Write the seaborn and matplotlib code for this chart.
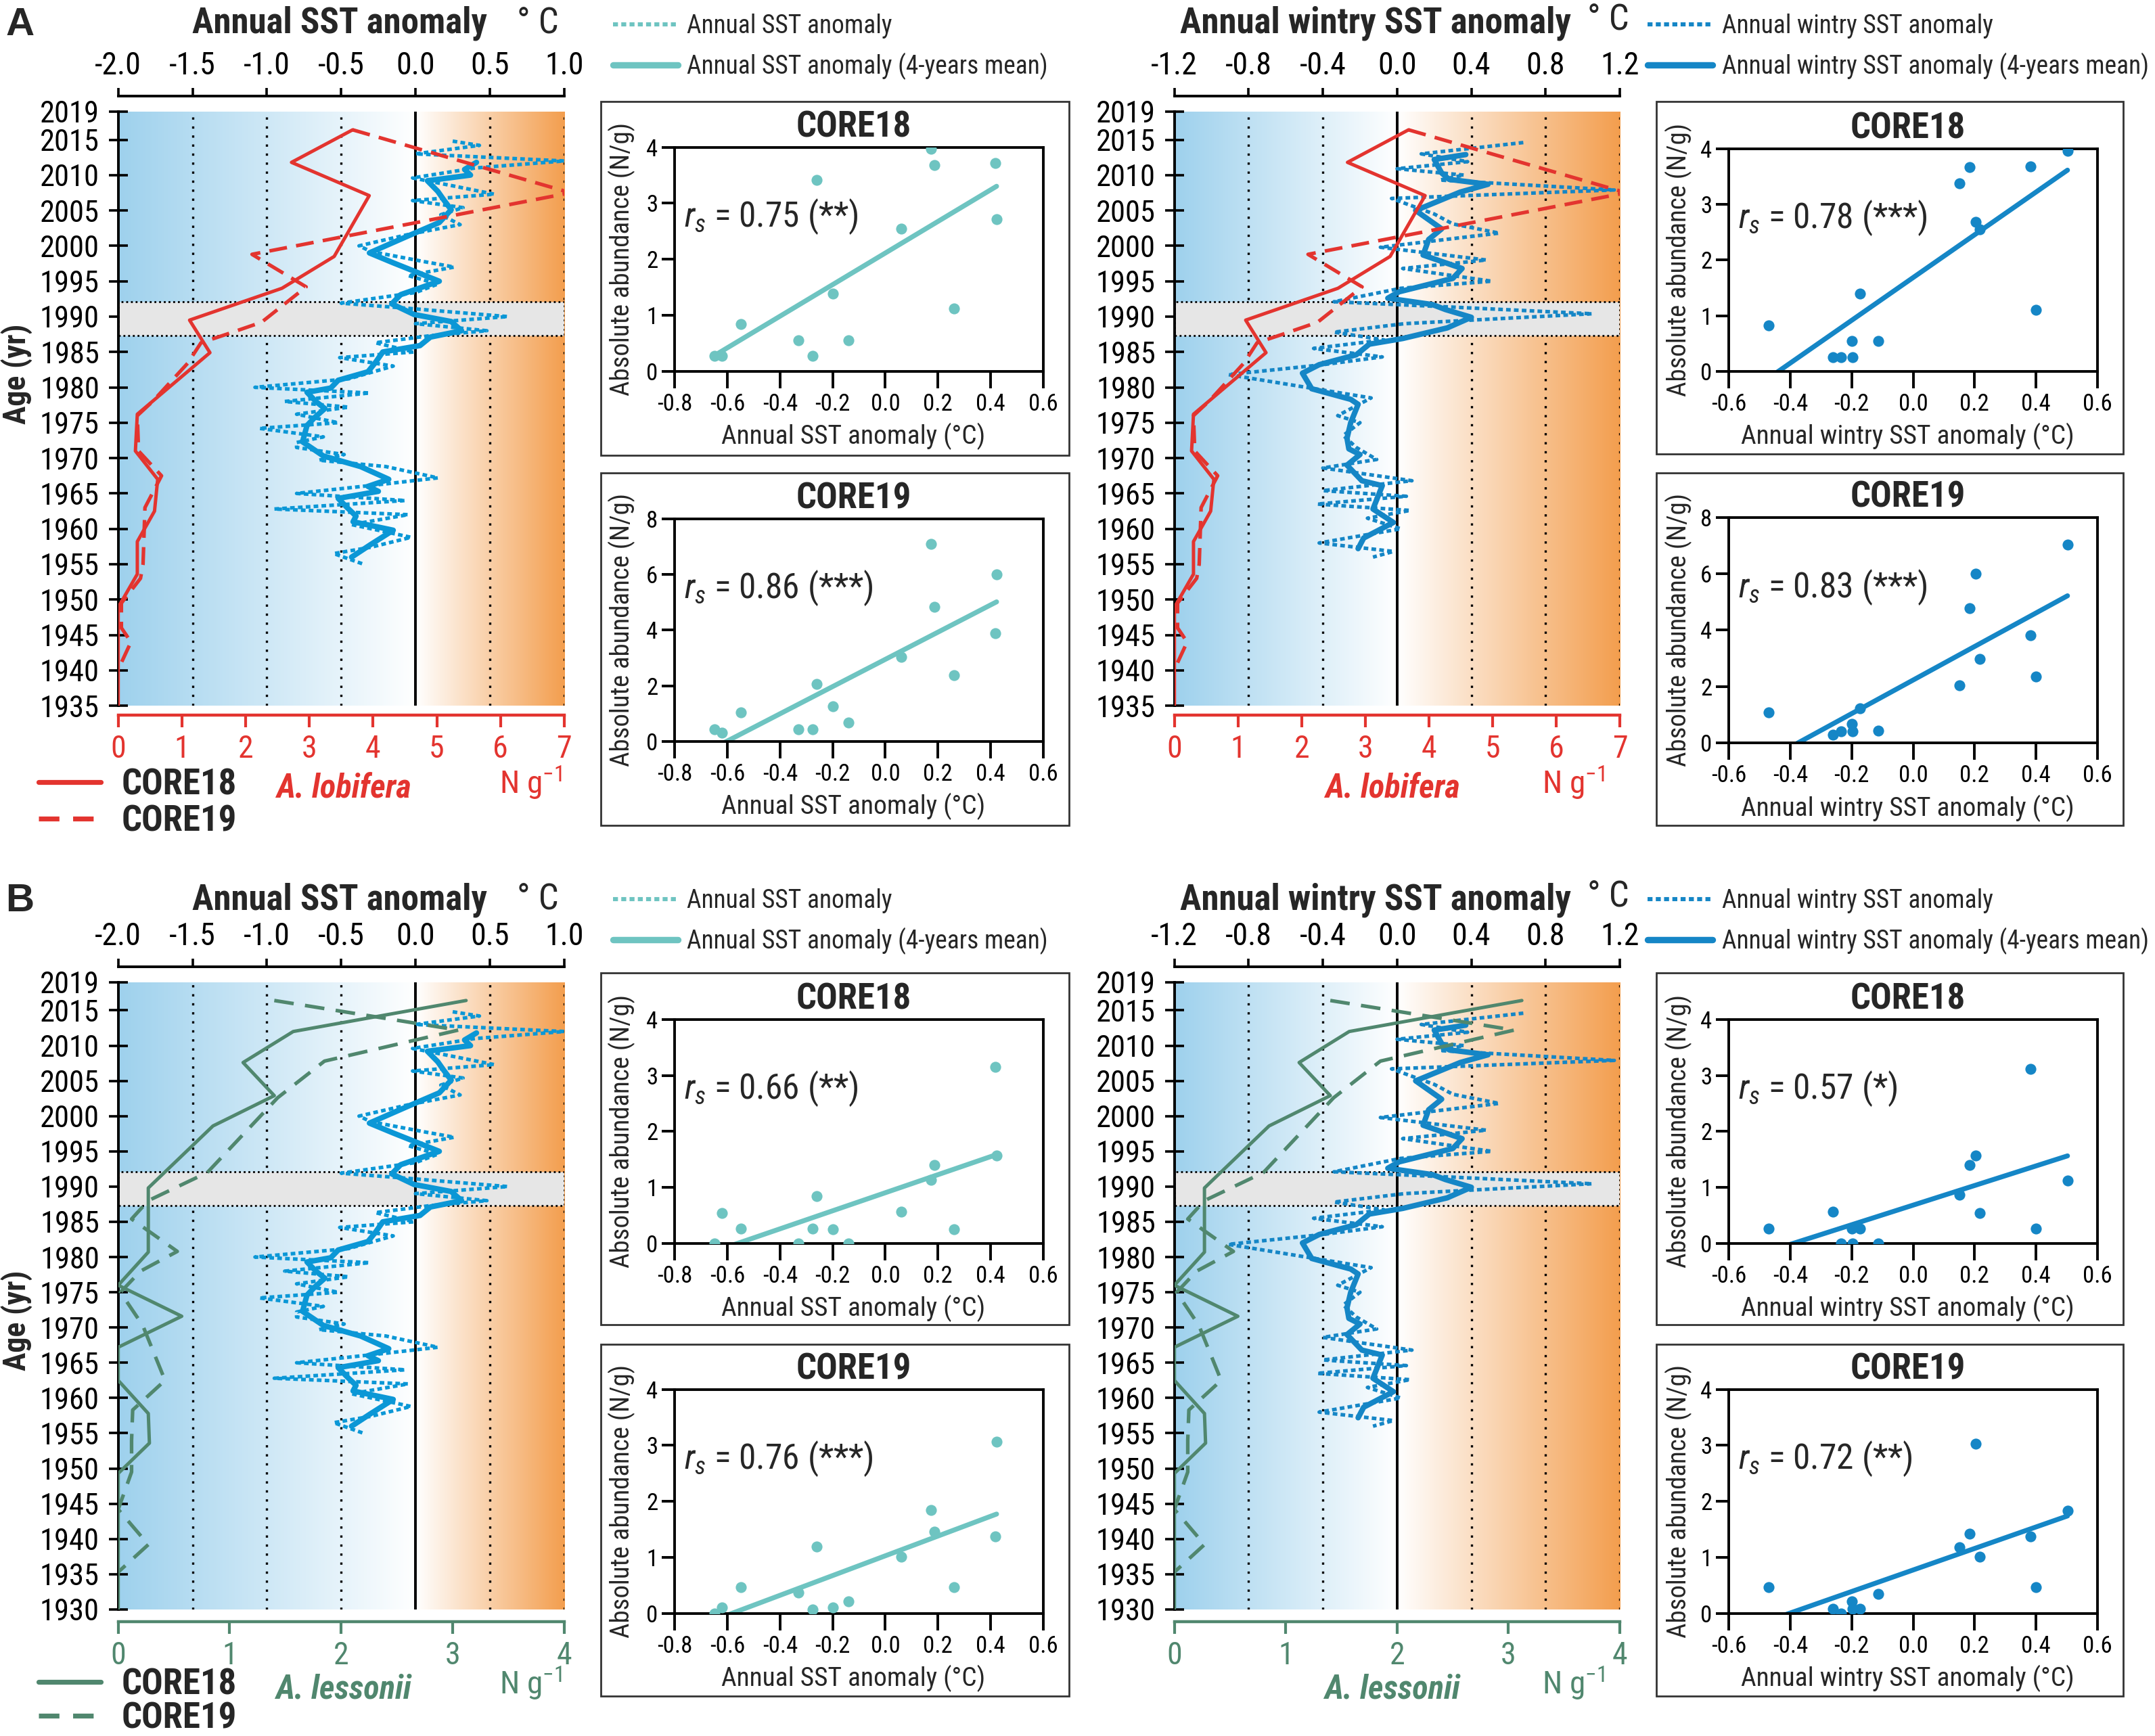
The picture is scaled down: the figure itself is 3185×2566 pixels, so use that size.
import numpy as np
import matplotlib
matplotlib.use("Agg")
import matplotlib.pyplot as plt
import seaborn as sns
from matplotlib.lines import Line2D
from matplotlib.patches import Rectangle
from matplotlib import font_manager
from matplotlib.font_manager import FontProperties

sns.set_style("white")


# the figure uses a condensed sans serif everywhere; look for one
def pick_font():
    for name, sc in [("Liberation Sans Narrow", 1.0), ("Arial Narrow", 1.0),
                     ("Noto Sans Condensed", 0.95), ("DejaVu Sans Condensed", 0.92),
                     ("Roboto Condensed", 1.0)]:
        try:
            font_manager.findfont(name, fallback_to_default=False)
            return name, "normal", sc
        except Exception:
            pass
    for fam, sc in [("Noto Sans", 0.95), ("DejaVu Sans", 0.92), ("Open Sans", 0.95),
                    ("Roboto", 1.0)]:
        try:
            path = font_manager.findfont(FontProperties(family=fam, stretch="condensed"),
                                         fallback_to_default=False)
            if "ondensed" in path or "arrow" in path:
                return fam, "condensed", sc
        except Exception:
            pass
    return "Liberation Sans", "normal", 0.9


MAIN, STRETCH, SC = pick_font()
plt.rcParams["font.family"] = [MAIN, "Liberation Sans", "DejaVu Sans"]
plt.rcParams["font.stretch"] = STRETCH
plt.rcParams["mathtext.fontset"] = "custom"
plt.rcParams["mathtext.rm"] = MAIN
plt.rcParams["mathtext.it"] = MAIN + ":italic"
plt.rcParams["axes.unicode_minus"] = False


def fs(pt):
    return pt * SC


# ---------------- data ----------------
# annual SST anomaly (degC), yearly values (dotted) and 4-years mean (solid)
ann_years = [2014.8, 2014.2, 2013.0, 2012.0, 2011.0, 2009.6, 2008.4, 2007.3, 2006.4, 2005.4,
             2004.4, 2003.0, 2001.6, 2000.0, 1999.2, 1997.8, 1997.0, 1995.8, 1994.6, 1993.4,
             1991.9, 1991.2, 1990.0, 1989.0, 1988.0, 1987.3, 1986.3, 1985.0, 1984.2, 1983.0,
             1981.2, 1980.0, 1979.2, 1978.0, 1977.2, 1976.2, 1975.0, 1974.2, 1973.0, 1972.2,
             1971.5, 1970.5, 1969.7, 1968.8, 1967.2, 1966.4, 1965.0, 1964.0, 1962.8, 1962.0,
             1960.6, 1958.8, 1957.4, 1956.5, 1955.0]
ann_sst = [0.25, 0.43, 0.00, 1.00, 0.40, -0.02, 0.27, 0.53, -0.02, 0.32,
           0.17, 0.30, -0.05, -0.38, -0.30, 0.05, 0.26, -0.05, 0.15, 0.00,
           -0.50, -0.07, 0.62, 0.00, 0.48, 0.10, -0.27, -0.01, -0.51, -0.15,
           -0.45, -1.08, -0.31, -0.88, -0.45, -0.80, -0.52, -1.05, -0.62, -0.80,
           -0.80, -0.48, -0.65, -0.20, 0.15, -0.18, -0.80, -0.07, -0.95, -0.05,
           -0.43, -0.03, -0.30, -0.55, -0.35]
ann_mean_years = [2011.8, 2010.8, 2010.0, 2009.2, 2007.7, 2006.5, 2005.1, 2003.3, 2001.4, 1999.0,
                  1997.6, 1995.0, 1993.1, 1991.8, 1990.3, 1989.3, 1988.0, 1987.1, 1985.9, 1985.0,
                  1983.5, 1982.2, 1981.0, 1979.9, 1979.3, 1978.0, 1977.0, 1975.7, 1974.6, 1972.3,
                  1970.3, 1968.8, 1967.0, 1966.0, 1965.3, 1964.3, 1963.0, 1961.8, 1961.0, 1959.8,
                  1957.8, 1956.0]
ann_mean = [0.41, 0.33, 0.37, 0.08, 0.15, 0.19, 0.24, 0.16, -0.05, -0.31,
            -0.15, 0.16, -0.10, -0.16, -0.01, 0.24, 0.31, 0.10, 0.03, -0.22,
            -0.27, -0.32, -0.52, -0.57, -0.73, -0.67, -0.61, -0.68, -0.73, -0.76,
            -0.62, -0.37, -0.18, -0.32, -0.25, -0.52, -0.46, -0.40, -0.42, -0.15,
            -0.30, -0.43]

# annual wintry SST anomaly (degC)
win_years = [2014.6, 2013.0, 2011.9, 2010.9, 2010.0, 2009.3, 2007.9, 2006.7, 2004.5, 2003.1,
             2001.8, 1999.8, 1998.0, 1996.8, 1995.0, 1994.0, 1992.1, 1991.3, 1990.4, 1989.0,
             1987.8, 1986.7, 1985.5, 1984.3, 1983.2, 1981.8, 1978.5, 1976.0, 1975.0, 1973.2,
             1971.5, 1969.8, 1968.6, 1966.8, 1965.4, 1964.6, 1963.5, 1962.6, 1961.5, 1960.0,
             1958.0, 1956.8, 1956.0]
win_sst = [0.68, 0.13, 0.38, 0.00, 0.36, 0.23, 1.17, -0.03, 0.20, 0.30,
           0.55, -0.09, 0.48, 0.03, 0.51, 0.02, -0.34, 0.33, 1.05, 0.04,
           -0.34, -0.07, -0.45, -0.08, -0.40, -0.91, -0.14, -0.32, -0.20, -0.29,
           -0.22, -0.11, -0.40, 0.08, -0.40, 0.05, -0.43, 0.07, -0.16, 0.02,
           -0.42, -0.02, -0.13]
win_mean_years = [2012.9, 2012.2, 2010.3, 2009.4, 2008.7, 2007.6, 2005.0, 2002.4, 2000.9, 1998.7,
                  1996.8, 1995.4, 1993.5, 1992.6, 1991.7, 1991.0, 1989.9, 1988.4, 1986.9, 1986.1,
                  1984.6, 1983.2, 1982.0, 1979.8, 1978.3, 1977.6, 1975.0, 1972.8, 1971.3, 1970.5,
                  1969.0, 1966.8, 1966.1, 1962.8, 1960.9, 1958.7, 1957.2]
win_mean = [0.37, 0.20, 0.24, 0.28, 0.49, 0.34, 0.10, 0.24, 0.17, 0.14,
            0.35, 0.30, 0.01, -0.05, 0.19, 0.26, 0.40, 0.27, 0.03, -0.15,
            -0.22, -0.42, -0.51, -0.46, -0.25, -0.21, -0.25, -0.27, -0.26, -0.20,
            -0.27, -0.19, -0.08, -0.13, -0.02, -0.18, -0.21]

# A. lobifera abundance (N/g)
lob18_years = [2016.4, 2011.8, 2007.1, 1998.5, 1994.0, 1989.5, 1984.9, 1976.2, 1971.0, 1967.0,
               1962.5, 1958.2, 1953.6, 1948.9, 1935.0]
lob18 = [3.68, 2.72, 3.94, 3.39, 2.57, 1.12, 1.44, 0.30, 0.27, 0.62,
         0.57, 0.30, 0.30, 0.00, 0.00]
lob19_years = [2016.4, 2007.5, 1998.8, 1994.2, 1989.2, 1987.5, 1986.3, 1983.4, 1978.0, 1976.0,
               1971.0, 1967.5, 1963.0, 1955.0, 1953.0, 1949.5, 1946.0, 1944.0, 1940.5]
lob19 = [3.68, 7.10, 2.10, 2.95, 2.25, 1.70, 1.30, 1.09, 0.54, 0.30,
         0.32, 0.68, 0.42, 0.39, 0.35, 0.05, 0.05, 0.20, 0.02]

# A. lessonii abundance (N/g)
les18_years = [2016.4, 2012.0, 2007.6, 2002.9, 1998.6, 1989.8, 1980.7, 1976.0, 1971.6, 1967.2,
               1962.5, 1957.8, 1953.6, 1949.3, 1930.0]
les18 = [3.12, 1.57, 1.12, 1.40, 0.85, 0.27, 0.27, 0.00, 0.57, 0.00,
         0.00, 0.27, 0.28, 0.00, 0.00]
les19_years = [2016.4, 2012.2, 2007.8, 2002.6, 1992.0, 1988.0, 1985.4, 1980.8, 1978.0, 1975.0,
               1970.3, 1962.5, 1958.3, 1954.0, 1949.5, 1944.2, 1939.2, 1935.3]
les19 = [1.40, 3.05, 1.85, 1.43, 0.80, 0.27, 0.12, 0.53, 0.20, 0.02,
         0.22, 0.42, 0.13, 0.12, 0.12, 0.00, 0.27, 0.00]

# correlation scatter: SST of each sample vs abundance
samp_ann = [-0.65, -0.62, -0.55, -0.33, -0.275, -0.26, -0.20, -0.14, 0.06, 0.175, 0.187, 0.26, 0.417, 0.423]
samp_win = [-0.47, -0.262, -0.235, -0.20, -0.197, -0.172, -0.114, 0.152, 0.184, 0.203, 0.218, 0.383, 0.401, 0.503]
lob18_ann = [0.28, 0.28, 0.84, 0.55, 0.28, 3.41, 1.39, 0.55, 2.55, 3.97, 3.68, 1.12, 3.72, 2.71]
lob19_ann = [0.44, 0.31, 1.05, 0.44, 0.44, 2.06, 1.25, 0.69, 3.03, 7.10, 4.84, 2.38, 3.88, 6.00]
lob18_win = [0.82, 0.25, 0.25, 0.55, 0.25, 1.40, 0.55, 3.38, 3.67, 2.68, 2.55, 3.68, 1.10, 3.96]
lob19_win = [1.08, 0.29, 0.41, 0.68, 0.41, 1.22, 0.42, 2.04, 4.78, 6.00, 2.97, 3.81, 2.35, 7.04]
les18_ann = [0.00, 0.54, 0.27, 0.00, 0.27, 0.84, 0.26, 0.00, 0.57, 1.14, 1.40, 0.26, 3.15, 1.57]
les19_ann = [0.00, 0.11, 0.47, 0.38, 0.07, 1.19, 0.11, 0.22, 1.01, 1.85, 1.46, 0.47, 1.38, 3.06]
les18_win = [0.27, 0.57, 0.00, 0.27, 0.00, 0.27, 0.00, 0.87, 1.40, 1.57, 0.55, 3.12, 0.27, 1.12]
les19_win = [0.47, 0.09, 0.00, 0.22, 0.09, 0.09, 0.35, 1.18, 1.43, 3.03, 1.01, 1.38, 0.47, 1.83]

rs_labels = {"lob18_ann": "0.75 (**)", "lob19_ann": "0.86 (***)",
             "lob18_win": "0.78 (***)", "lob19_win": "0.83 (***)",
             "les18_ann": "0.66 (**)", "les19_ann": "0.76 (***)",
             "les18_win": "0.57 (*)", "les19_win": "0.72 (**)"}

ann_ticks = [-2.0, -1.5, -1.0, -0.5, 0.0, 0.5, 1.0]
win_ticks = [-1.2, -0.8, -0.4, 0.0, 0.4, 0.8, 1.2]
band = (1987.3, 1992.1)

# ---------------- style ----------------
RED = "#e3342f"
GREEN = "#50876e"
BLUE_ANN = "#0b97d6"
BLUE_WIN = "#1586c6"
TEAL = "#6ec4c1"
BLUE_BG = np.array([158, 209, 237]) / 255
ORANGE_BG = np.array([243, 158, 78]) / 255

W, H = 1568.0, 1262.0


def frac(x0, y0, x1, y1):
    return [x0 / W, 1 - y1 / H, (x1 - x0) / W, (y1 - y0) / H]


def fx(x):
    return x / W


def fy(y):
    return 1 - y / H


fig = plt.figure(figsize=(15.925, 12.83), dpi=200)


def profile(rect, sst_ticks, yr0, sp_col, c18y, c18, c19y, c19, n_max,
            line_col, ay, av, my, mv, top_out, bot_out, dash):
    lo, hi = sst_ticks[0], sst_ticks[-1]
    ax = fig.add_axes(rect)
    # blue -> white -> orange background along the SST axis
    xs = np.linspace(lo, hi, 800)
    t_neg = np.clip(xs / lo, 0, 1)
    t_pos = np.clip(xs / hi, 0, 1)
    rgb = 1 + (BLUE_BG - 1) * t_neg[:, None] + (ORANGE_BG - 1) * t_pos[:, None]
    ax.imshow(rgb[None], extent=[lo, hi, yr0, 2019], aspect="auto",
              interpolation="bilinear", zorder=0)
    dots = [v for v in sst_ticks[1:] if abs(v) > 1e-9]
    for v in dots:
        ax.axvline(v, color="black", lw=1.2, ls=(0, (1, 3)), zorder=1)
    ax.axhspan(band[0], band[1], facecolor="#e6e6e6", edgecolor="black",
               lw=1.0, ls=(0, (1, 1.5)), zorder=1.5)
    ax.axvline(0, color="black", lw=1.4, zorder=2)
    sns.lineplot(x=av, y=ay, sort=False, estimator=None, ax=ax, color=line_col,
                 lw=1.9, ls=(0, (1.3, 0.9)), zorder=3)
    sns.lineplot(x=mv, y=my, sort=False, estimator=None, ax=ax, color=line_col,
                 lw=2.9, zorder=4)
    ax.set_xlim(lo, hi)
    ax.set_ylim(yr0, 2019)
    ax.set_xlabel("")
    ax.set_ylabel("")

    axn = ax.twiny()
    sns.lineplot(x=c18, y=c18y, sort=False, estimator=None, ax=axn, color=sp_col,
                 lw=1.8, zorder=5)
    sns.lineplot(x=c19, y=c19y, sort=False, estimator=None, ax=axn, color=sp_col,
                 lw=1.9, ls=dash, zorder=5)
    axn.set_xlim(0, n_max)
    axn.set_ylim(yr0, 2019)
    axn.set_xlabel("")
    axn.set_ylabel("")

    # SST axis on top
    ax.xaxis.set_ticks_position("top")
    ax.set_xticks(sst_ticks)
    ax.set_xticklabels([f"{t:.1f}" for t in sst_ticks])
    ax.tick_params(axis="x", top=True, bottom=False, labeltop=True, labelbottom=False,
                   direction="out", length=4.5, width=1.3, pad=3.5, labelsize=fs(16.5),
                   colors="black")
    yt = [2019] + list(range(2015, yr0 - 1, -5))
    ax.set_yticks(yt)
    ax.set_yticklabels([str(y) for y in yt])
    ax.tick_params(axis="y", left=True, direction="inout", length=10, width=1.3,
                   pad=5, labelsize=fs(16), colors="black")
    for s in ["right", "bottom"]:
        ax.spines[s].set_visible(False)
    ax.spines["top"].set_position(("outward", top_out))
    for s in ["top", "left"]:
        ax.spines[s].set_color("black")
        ax.spines[s].set_linewidth(1.4)
    ax.spines["left"].set_zorder(6)

    # abundance axis at bottom
    axn.xaxis.set_ticks_position("bottom")
    axn.set_xticks(range(0, n_max + 1))
    axn.tick_params(axis="x", top=False, bottom=True, labeltop=False, labelbottom=True,
                    direction="out", length=6.5, width=1.5, pad=3.5, labelsize=fs(16.5),
                    color=sp_col, labelcolor=sp_col)
    for s in ["top", "left", "right"]:
        axn.spines[s].set_visible(False)
    axn.spines["bottom"].set_position(("outward", bot_out))
    axn.spines["bottom"].set_color(sp_col)
    axn.spines["bottom"].set_linewidth(1.6)
    return ax


def scatter(rect, box, x, y, xticks, ymax, col, title, rs, xlabel, ylab_x):
    b = frac(*box)
    fig.add_artist(Rectangle((b[0], b[1]), b[2], b[3], transform=fig.transFigure,
                             fill=False, edgecolor="#333333", lw=1.0))
    ax = fig.add_axes(frac(*rect))
    sns.regplot(x=np.array(x), y=np.array(y), ax=ax, ci=None, color=col,
                scatter_kws={"s": 34, "linewidths": 0, "alpha": 1, "zorder": 3},
                line_kws={"lw": 2.6, "zorder": 2})
    ax.set_xlim(xticks[0], xticks[-1])
    ax.set_ylim(0, ymax)
    ax.set_xticks(xticks)
    ax.set_xticklabels([f"{t:.1f}" for t in xticks])
    step = 1 if ymax == 4 else 2
    ax.set_yticks(range(0, ymax + 1, step))
    ax.set_xlabel("")
    ax.set_ylabel("")
    ax.tick_params(axis="x", bottom=True, direction="out", length=9, width=1.4,
                   pad=2.5, labelsize=fs(12.5), colors="black")
    ax.tick_params(axis="y", left=True, direction="out", length=7, width=1.4,
                   pad=2, labelsize=fs(12.5), colors="black")
    for s in ax.spines.values():
        s.set_visible(True)
        s.set_color("black")
        s.set_linewidth(1.4)
    ax.text(0.485, 1.09, title, transform=ax.transAxes, ha="center", va="center",
            fontsize=fs(19), fontweight="bold")
    ax.text(0.025, 0.69, r"$r_s$ = " + rs, transform=ax.transAxes, ha="left",
            va="center", fontsize=fs(18.5))
    ax.text(0.485, -0.29, xlabel, transform=ax.transAxes, ha="center", va="center",
            fontsize=fs(14.2))
    ax.text(ylab_x, 0.5, "Absolute abundance (N/g)", transform=ax.transAxes,
            rotation=90, ha="center", va="center", fontsize=fs(14))
    return ax


red_dash = (0, (5, 2.6))
green_dash = (0, (5.5, 3.2))

# ---------------- panel A ----------------
profile(frac(86, 81, 410.5, 513), ann_ticks, 1935, RED, lob18_years, lob18,
        lob19_years, lob19, 7, BLUE_ANN, ann_years, ann_sst, ann_mean_years, ann_mean,
        8.3, 5.0, red_dash)
profile(frac(854.5, 81, 1178.6, 513), win_ticks, 1935, RED, lob18_years, lob18,
        lob19_years, lob19, 7, BLUE_WIN, win_years, win_sst, win_mean_years, win_mean,
        8.3, 5.0, red_dash)

# ---------------- panel B ----------------
profile(frac(86, 714, 410.5, 1170), ann_ticks, 1930, GREEN, les18_years, les18,
        les19_years, les19, 4, BLUE_ANN, ann_years, ann_sst, ann_mean_years, ann_mean,
        8.3, 6.5, green_dash)
profile(frac(854.5, 714, 1178.6, 1170), win_ticks, 1930, GREEN, les18_years, les18,
        les19_years, les19, 4, BLUE_WIN, win_years, win_sst, win_mean_years, win_mean,
        8.3, 6.5, green_dash)

ann_xt = [-0.8, -0.6, -0.4, -0.2, 0.0, 0.2, 0.4, 0.6]
win_xt = [-0.6, -0.4, -0.2, 0.0, 0.2, 0.4, 0.6]
xl_ann = "Annual SST anomaly (°C)"
xl_win = "Annual wintry SST anomaly (°C)"

scatter((491, 107, 759, 270), (437, 74, 778, 331), samp_ann, lob18_ann, ann_xt, 4, TEAL,
        "CORE18", rs_labels["lob18_ann"], xl_ann, -0.145)
scatter((491, 377, 759, 539), (437, 344, 778, 600), samp_ann, lob19_ann, ann_xt, 8, TEAL,
        "CORE19", rs_labels["lob19_ann"], xl_ann, -0.145)
scatter((1258, 108, 1526, 270), (1205, 74, 1545, 330), samp_win, lob18_win, win_xt, 4,
        BLUE_WIN, "CORE18", rs_labels["lob18_win"], xl_win, -0.137)
scatter((1258, 376, 1526, 540), (1205, 344, 1545, 600), samp_win, lob19_win, win_xt, 8,
        BLUE_WIN, "CORE19", rs_labels["lob19_win"], xl_win, -0.137)
scatter((491, 741, 759, 904), (437, 707, 778, 963), samp_ann, les18_ann, ann_xt, 4, TEAL,
        "CORE18", rs_labels["les18_ann"], xl_ann, -0.145)
scatter((491, 1010, 759, 1173), (437, 977, 778, 1233), samp_ann, les19_ann, ann_xt, 4, TEAL,
        "CORE19", rs_labels["les19_ann"], xl_ann, -0.145)
scatter((1258, 741, 1526, 904), (1205, 707, 1545, 963), samp_win, les18_win, win_xt, 4,
        BLUE_WIN, "CORE18", rs_labels["les18_win"], xl_win, -0.137)
scatter((1258, 1010, 1526, 1173), (1205, 977, 1545, 1233), samp_win, les19_win, win_xt, 4,
        BLUE_WIN, "CORE19", rs_labels["les19_win"], xl_win, -0.137)

# ---------------- texts and legends ----------------
for ytop, letter in [(18, "A"), (655, "B")]:
    fig.text(fx(4), fy(ytop), letter, fontsize=21, fontweight="bold", va="center",
             family=["Liberation Sans", "DejaVu Sans"], stretch="normal")
    fig.text(fx(247), fy(ytop - 1), "Annual SST anomaly", fontsize=fs(19),
             fontweight="bold", ha="center", va="center")
    fig.text(fx(376), fy(ytop - 1), "° C", fontsize=fs(19), va="center")
    fig.text(fx(1001), fy(ytop - 1), "Annual wintry SST anomaly", fontsize=fs(19),
             fontweight="bold", ha="center", va="center")
    fig.text(fx(1155), fy(ytop - 3), "° C", fontsize=fs(19), va="center")

for yc in (272, 960):
    fig.text(fx(12), fy(yc), "Age (yr)", rotation=90, fontsize=fs(16.5),
             fontweight="bold", ha="center", va="center")

for ytop, col, dash, sp, lsp in [(558, RED, red_dash, "A. lobifera", 0.06),
                                 (1212, GREEN, green_dash, "A. lessonii", -0.02)]:
    handles = [Line2D([], [], color=col, lw=2.6),
               Line2D([], [], color=col, lw=2.6, ls=(0, (4.2, 2.8)))]
    fig.legend(handles, ["CORE18", "CORE19"], loc="upper left",
               bbox_to_anchor=(fx(28), fy(ytop)), frameon=False, borderpad=0,
               borderaxespad=0, handlelength=1.75 / SC, handletextpad=0.57 / SC,
               labelspacing=lsp, prop={"weight": "bold", "size": fs(19)})
    yc = 573 if ytop < 1000 else 1228
    fig.text(fx(250), fy(yc), sp, color=col, fontsize=fs(17.5), fontweight="bold",
             style="italic", ha="center", va="center")
    fig.text(fx(1013), fy(yc), sp, color=col, fontsize=fs(17.5), fontweight="bold",
             style="italic", ha="center", va="center")
    fig.text(fx(386), fy(yc - 4), r"N g$^{-1}$", color=col, fontsize=fs(17),
             ha="center", va="center")
    fig.text(fx(1145), fy(yc - 4), r"N g$^{-1}$", color=col, fontsize=fs(17),
             ha="center", va="center")

for ytop in (10, 646):
    for x0, col, lab in [(446, TEAL, "Annual SST anomaly"),
                         (1199, BLUE_WIN, "Annual wintry SST anomaly")]:
        handles = [Line2D([], [], color=col, lw=2.2, ls=(0, (1.2, 0.8))),
                   Line2D([], [], color=col, lw=3.4)]
        fig.legend(handles, [lab, lab + " (4-years mean)"], loc="upper left",
                   bbox_to_anchor=(fx(x0), fy(ytop)), frameon=False, borderpad=0,
                   borderaxespad=0, handlelength=2.55 / SC, handletextpad=0.37 / SC,
                   labelspacing=0.55, prop={"size": fs(13.5)})

fig.savefig("out.png", dpi=200)
